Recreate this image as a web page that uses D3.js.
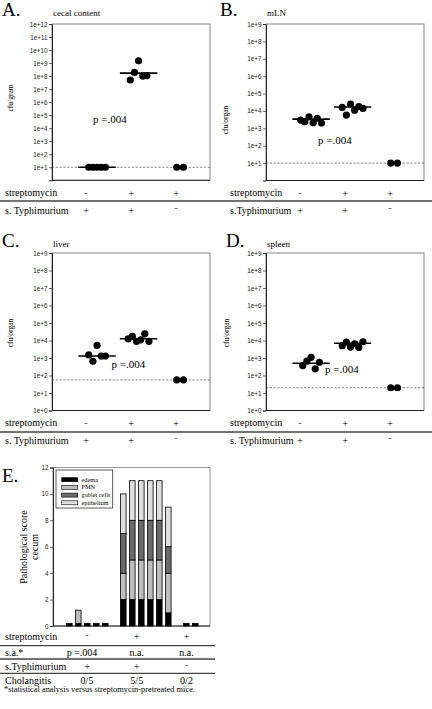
<!DOCTYPE html>
<html><head><meta charset="utf-8">
<script src="https://cdn.jsdelivr.net/npm/d3@7"></script>
<style>body{margin:0;background:#fff} .serif{font-family:"Liberation Serif","DejaVu Serif",serif} .sans{font-family:"Liberation Sans","DejaVu Sans",sans-serif}</style>
</head><body><svg id="c" width="432" height="709"></svg>
<script>
// ---------- DATA ----------
const groupIds = [1, 2, 3];
const streptomycinRow = ["-", "+", "+"];
const typhimuriumRow = ["+", "+", "-"];
const cecalValues = [[10,10,10,10,10],[5e7,1.9e8,1.5e9,1e8,1.1e8],[10,10]];
const cecalMedians = [10, 1.7e8, null];
const mlnValues = [[3.0e3,2.4e3,4.6e3,2.1e3,3.8e3,2.0e3],[1.6e4,5.8e3,2.5e4,1.1e4,1.8e4,1.4e4],[10,10]];
const mlnMedians = [3.4e3, 1.7e4, null];
const liverValues = [[1500,650,5200,1300,1300],[1.25e4,1.7e4,9e3,1.1e4,2.4e4,9e3],[56,56]];
const liverMedians = [1300, 1.25e4, null];
const spleenValues = [[370,660,1100,240,570],[5000,8000,4200,6500,4000,8500],[20,20]];
const spleenMedians = [500, 7000, null];
const detectionLimits = [10, 10, 56, 20];
const pText = "p =.004";

// Panel E: pathological scores per mouse
const micePerGroup = [5, 6, 2];
const edema      = [0.2,0.2,0.2,0.2,0.2, 2,2,2,2,2,1, 0.2,0.2];
const pmn        = [0,1,0,0,0,           2,3,3,3,3,3, 0,0];
const goblet     = [0,0,0,0,0,           3,3,3,3,3,2, 0,0];
const epithelium = [0,0,0,0,0,           3,3,3,3,3,3, 0,0];
const scoreKeys = ["edema","PMN","goblet cells","epithelium"];
const scoreTicks = [0,2,4,6,8,10,12];
const saRow = ["p =.004", "n.a.", "n.a."];
const cholangitisRow = ["0/5", "5/5", "0/2"];

// ---------- DRAW ----------
const svg = d3.select("#c");
svg.append("rect").attr("width",432).attr("height",709).attr("fill","#fff");
function T(sel, x, y, txt, size, cls) {
  return sel.append("text").attr("x",x).attr("y",y).attr("class",cls||"serif").style("font-size",size+"px").text(txt);
}

const panels = [
  {letter:"A.", lx:2, ly:16, title:"cecal content", x0:52, x1:210, y0:24, y1:180.3, maxExp:12, minLab:1,
   ylabel:"cfu/gram", ylx:10, yly:98, px:93, py:123, vals:cecalValues, meds:cecalMedians, lim:detectionLimits[0],
   tableY:196, typhi:"s. Typhimurium"},
  {letter:"B.", lx:220, ly:16, title:"mLN", x0:266, x1:424, y0:24, y1:180.5, maxExp:9, minLab:1,
   ylabel:"cfu/organ", ylx:225, yly:120, px:318, py:143.5, vals:mlnValues, meds:mlnMedians, lim:detectionLimits[1],
   tableY:196, typhi:"s.Typhimurium"},
  {letter:"C.", lx:2, ly:247, title:"liver", x0:52, x1:210, y0:253, y1:410.5, maxExp:9, minLab:0,
   ylabel:"cfu/organ", ylx:10, yly:333, px:111.5, py:368, vals:liverValues, meds:liverMedians, lim:detectionLimits[2],
   tableY:426, typhi:"s. Typhimurium"},
  {letter:"D.", lx:226, ly:247, title:"spleen", x0:266, x1:424, y0:253, y1:410.5, maxExp:9, minLab:0,
   ylabel:"cfu/organ", ylx:226, yly:333, px:325, py:372.5, vals:spleenValues, meds:spleenMedians, lim:detectionLimits[3],
   tableY:426, typhi:"s. Typhimurium"}
];

panels.forEach(P => {
  const g = svg.append("g");
  const x = d3.scaleLinear().domain([-0.085, 3.72]).range([P.x0, P.x1]);
  const y = d3.scaleLog().domain([1, Math.pow(10, P.maxExp)]).range([P.y1, P.y0]);
  g.append("rect").attr("x",P.x0).attr("y",P.y0).attr("width",P.x1-P.x0).attr("height",P.y1-P.y0)
    .attr("fill","none").attr("stroke","#777").attr("stroke-width",0.9);
  g.append("line").attr("x1",P.x0).attr("x2",P.x1).attr("y1",P.y1).attr("y2",P.y1).attr("stroke","#222").attr("stroke-width",1);
  const tv = d3.range(P.minLab, P.maxExp+1).map(e => Math.pow(10,e));
  const ax = g.append("g").attr("transform",`translate(${P.x0},0)`)
    .call(d3.axisLeft(y).tickValues(tv).tickSize(3).tickPadding(1.5).tickFormat(v => "1e+" + Math.round(Math.log10(v))));
  ax.attr("font-family",null).attr("font-size",null);
  ax.select(".domain").attr("stroke","#222").attr("stroke-width",1);
  ax.selectAll(".tick line").attr("stroke","#444").attr("stroke-width",0.8);
  ax.selectAll("text").attr("class","sans").style("font-size","6.3px").attr("fill","#222");
  g.append("line").attr("x1",P.x0).attr("x2",P.x1).attr("y1",y(P.lim)).attr("y2",y(P.lim))
    .attr("stroke","#333").attr("stroke-width",0.6).attr("stroke-dasharray","2.2,1.6");
  P.meds.forEach((m,i) => {
    if (m == null) return;
    g.append("line").attr("x1",x(groupIds[i]-0.45)).attr("x2",x(groupIds[i]+0.45))
      .attr("y1",y(m)).attr("y2",y(m)).attr("stroke","#000").attr("stroke-width",1.6);
  });
  P.vals.forEach((arr,i) => {
    const n = arr.length, s = n <= 2 ? 0.16 : 0.1;
    g.selectAll(null).data(arr).enter().append("circle")
      .attr("cx",(d,j) => x(groupIds[i] + (j-(n-1)/2)*s))
      .attr("cy",d => y(d)).attr("r",3.6).attr("fill","#000");
  });
  T(g, P.lx, P.ly, P.letter, 19);
  T(g, P.x0+1, P.ly, P.title, 9);
  g.append("text").attr("class","serif").attr("transform",`translate(${P.ylx+2.5},${P.yly}) rotate(-90)`).attr("text-anchor","middle")
    .style("font-size","7.5px").text(P.ylabel);
  T(g, P.px, P.py, pText, 11);
  const col = d3.scaleLinear().domain([1,3]).range([P.x0+34, P.x0+124]);
  const tx = P.x0 < 100 ? 5 : 230;
  T(g, tx, P.tableY, "streptomycin", 10);
  T(g, tx, P.tableY+18, P.typhi, 10);
  streptomycinRow.forEach((t,i) => T(g, col(groupIds[i]), P.tableY + (t=="+"?1:0), t, 10)
    .attr("text-anchor","middle").attr("fill", t=="-"?"#555":"#000"));
  typhimuriumRow.forEach((t,i) => T(g, col(groupIds[i]), P.tableY + (t=="-"?15:18), t, 10)
    .attr("text-anchor","middle").attr("fill", t=="-"?"#555":"#000"));
});
[201, 432].forEach(yy => svg.append("line").attr("x1",0).attr("x2",432).attr("y1",yy).attr("y2",yy)
  .attr("stroke","#444").attr("stroke-width",1.6));

// ---------- Panel E ----------
const E = {x0:53, x1:210, y0:467.5, y1:626};
const eg = svg.append("g");
const slotKeys = [];
micePerGroup.forEach((n,gi) => { for (let k=0;k<n;k++) slotKeys.push(`g${gi}m${k}`); if (gi < micePerGroup.length-1) slotKeys.push(`gap${gi}`); });
const mouseKeys = slotKeys.filter(k => !k.startsWith("gap"));
const xb = d3.scaleBand().domain(slotKeys).range([64.8, 199.8]).paddingInner(0.38).paddingOuter(0.19);
const ys = d3.scaleLinear().domain([0,12]).range([E.y1, E.y0]);
const colors = {"edema":"#000","PMN":"#bdbdbd","goblet cells":"#6b6b6b","epithelium":"#dedede"};
const rows = mouseKeys.map((k,i) => ({key:k, "edema":edema[i], "PMN":pmn[i], "goblet cells":goblet[i], "epithelium":epithelium[i]}));
const stack = d3.stack().keys(scoreKeys)(rows);

eg.append("rect").attr("x",E.x0).attr("y",E.y0).attr("width",E.x1-E.x0).attr("height",E.y1-E.y0)
  .attr("fill","none").attr("stroke","#888").attr("stroke-width",0.9);
const eax = eg.append("g").attr("transform",`translate(${E.x0},0)`)
  .call(d3.axisLeft(ys).tickValues(scoreTicks).tickSize(3).tickPadding(1.5));
eax.attr("font-family",null).attr("font-size",null);
eax.select(".domain").attr("stroke","#222");
eax.selectAll(".tick line").attr("stroke","#444").attr("stroke-width",0.8);
eax.selectAll("text").attr("class","sans").style("font-size","6.3px").attr("fill","#222");
eg.append("line").attr("x1",E.x0).attr("x2",E.x1).attr("y1",E.y1).attr("y2",E.y1).attr("stroke","#222");

stack.forEach(layer => {
  eg.selectAll(null).data(layer.filter(d => d[1]-d[0] > 0)).enter().append("rect")
    .attr("x", d => xb(d.data.key)).attr("width", xb.bandwidth())
    .attr("y", d => ys(d[1])).attr("height", d => ys(d[0]) - ys(d[1]))
    .attr("fill", colors[layer.key]).attr("stroke","#000").attr("stroke-width",0.8);
});
const lg = eg.append("g");
lg.append("rect").attr("x",56).attr("y",470).attr("width",56.7).attr("height",38).attr("fill","#fff").attr("stroke","#333").attr("stroke-width",0.8);
scoreKeys.forEach((k,i) => {
  const cy = 479.7 + i*7.7;
  lg.append("rect").attr("x",61.7).attr("y",cy-2).attr("width",16).attr("height",4).attr("fill",colors[k]).attr("stroke","#000").attr("stroke-width",0.6);
  T(lg, 81.5, cy+2, k, 6.3);
});
T(eg, 2, 482, "E.", 19);
eg.append("text").attr("class","serif").attr("transform","translate(27,547) rotate(-90)").attr("text-anchor","middle")
  .style("font-size","10px").text("Pathological score");
eg.append("text").attr("class","serif").attr("transform","translate(37.5,547) rotate(-90)").attr("text-anchor","middle")
  .style("font-size","10px").text("cecum");

const ecol = d3.scaleLinear().domain([1,3]).range([87, 186.5]);
const eRows = [
  {label:"streptomycin", y:640, vals:streptomycinRow},
  {label:"s.a.*", y:656, vals:saRow},
  {label:"s.Typhimurium", y:669.5, vals:typhimuriumRow},
  {label:"Cholangitis", y:683.5, vals:cholangitisRow}
];
eRows.forEach(r => {
  T(eg, 5, r.y, r.label, 10);
  r.vals.forEach((t,i) => T(eg, i===0 && t.length>3 ? 82 : ecol(groupIds[i]), r.y + (t=="-" ? -2 : 0), t, 10)
    .attr("text-anchor","middle").attr("fill", t=="-"?"#555":"#000"));
});
[645.7, 659, 673.3].forEach(yy => eg.append("line").attr("x1",0).attr("x2",215).attr("y1",yy).attr("y2",yy)
  .attr("stroke","#444").attr("stroke-width",1.3));
T(eg, 4, 692, "*statistical analysis versus streptomycin-pretreated mice.", 8.4);
</script></body></html>
